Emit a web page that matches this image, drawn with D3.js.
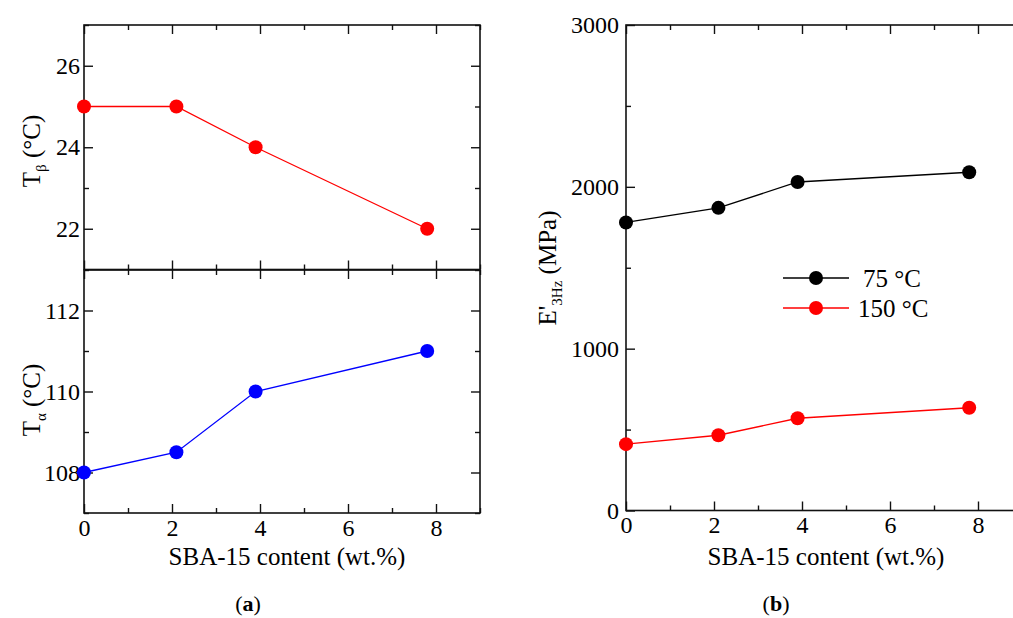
<!DOCTYPE html>
<html>
<head>
<meta charset="utf-8">
<script src="https://cdn.jsdelivr.net/npm/d3@7"></script>
<style>
  html, body { margin: 0; padding: 0; background: #fff; }
  svg { display: block; }
</style>
</head>
<body>
<svg id="chart" width="1013" height="618"></svg>
<script>
// ---------------- data ----------------
const sbaContent = [0, 2.1, 3.9, 7.8];          // SBA-15 content (wt.%)
const tBeta = [25, 25, 24, 22];                  // T_beta (°C)
const tAlpha = [108, 108.5, 110, 111];           // T_alpha (°C)
const modulus75 = [1780, 1870, 2030, 2090];      // E'3Hz at 75 °C (MPa)
const modulus150 = [410, 465, 570, 635];         // E'3Hz at 150 °C (MPa)
const seriesNames = ["75 °C", "150 °C"];
const xTicks = [0, 2, 4, 6, 8];
const xMinor = [1, 3, 5, 7, 9];
const tBetaTicks = [22, 24, 26];
const tBetaMinor = [21, 23, 25, 27];
const tAlphaTicks = [108, 110, 112];
const tAlphaMinor = [107, 109, 111, 113];
const eTicks = [0, 1000, 2000, 3000];
const eMinor = [500, 1500, 2500];

// ---------------- setup ----------------
const svg = d3.select("#chart");
const FONT = "'Liberation Serif', 'Times New Roman', serif";
const FS = 25;
const TFS = 24;
const MAJ = 9, MIN = 5;
const AX_COLOR = "#111";

function styleAxis(g) {
  g.select(".domain").remove();
  g.selectAll("line").attr("stroke", AX_COLOR).attr("stroke-width", 1.4);
  g.selectAll("text").attr("font-family", FONT).attr("font-size", TFS).attr("fill", "#000");
}

function frame(xs, ys, opts) {
  const [x0, x1] = xs.range();
  const [y0, y1] = ys.range(); // y0 bottom, y1 top
  const g = svg.append("g");
  const sides = [
    {axis: d3.axisBottom(xs), t: `translate(0,${y0})`, maj: opts.xTicks, min: opts.xMinor, labels: opts.xLabels},
    {axis: d3.axisTop(xs), t: `translate(0,${y1})`, maj: opts.xTicks, min: opts.xMinor, labels: false},
    {axis: d3.axisLeft(ys), t: `translate(${x0},0)`, maj: opts.yTicks, min: opts.yMinor, labels: true},
    {axis: d3.axisRight(ys), t: `translate(${x1},0)`, maj: opts.yTicks, min: opts.yMinor, labels: false}
  ];
  sides.forEach((s, i) => {
    const isY = i >= 2;
    const majAx = s.axis.tickValues(s.maj).tickSizeInner(-MAJ).tickSizeOuter(0)
      .tickPadding(isY ? opts.yPad : opts.xPad);
    if (!s.labels) majAx.tickFormat(() => "");
    else majAx.tickFormat(d3.format("d"));
    g.append("g").attr("transform", s.t).call(majAx).call(styleAxis);
    const minAxGen = (i === 0 ? d3.axisBottom(xs) : i === 1 ? d3.axisTop(xs) : i === 2 ? d3.axisLeft(ys) : d3.axisRight(ys));
    g.append("g").attr("transform", s.t)
      .call(minAxGen.tickValues(s.min).tickSizeInner(-MIN).tickSizeOuter(0).tickFormat(() => ""))
      .call(styleAxis);
  });
  g.append("rect")
    .attr("x", x0).attr("y", y1).attr("width", x1 - x0).attr("height", y0 - y1)
    .attr("fill", "none").attr("stroke", AX_COLOR).attr("stroke-width", 1.6);
  return g;
}

function series(xs, ys, xv, yv, color) {
  const line = d3.line().x((d, i) => xs(xv[i])).y(d => ys(d));
  svg.append("path").datum(yv)
    .attr("d", line).attr("fill", "none").attr("stroke", color).attr("stroke-width", 1.3);
  svg.append("g").selectAll("circle").data(yv).join("circle")
    .attr("cx", (d, i) => xs(xv[i])).attr("cy", d => ys(d)).attr("r", 7).attr("fill", color);
}

function yLabel(x, y, main, sub, rest) {
  const t = svg.append("text")
    .attr("transform", `translate(${x},${y}) rotate(-90)`)
    .attr("text-anchor", "middle")
    .attr("font-family", FONT).attr("font-size", FS).attr("fill", "#000");
  t.append("tspan").text(main);
  t.append("tspan").attr("font-size", 15).attr("dy", 6).text(sub);
  t.append("tspan").attr("dy", -6).text(rest);
}

// ---------------- panel (a) ----------------
const xa = d3.scaleLinear().domain([0, 9]).range([84, 480]);
const yTop = d3.scaleLinear().domain([21, 27]).range([269.5, 25]);
const yBot = d3.scaleLinear().domain([107, 113]).range([513, 270]);

frame(xa, yTop, {xTicks, xMinor, yTicks: tBetaTicks, yMinor: tBetaMinor, xLabels: false, xPad: 6, yPad: 4});
frame(xa, yBot, {xTicks, xMinor, yTicks: tAlphaTicks, yMinor: tAlphaMinor, xLabels: true, xPad: 6, yPad: 4});
series(xa, yTop, sbaContent, tBeta, "#ff0000");
series(xa, yBot, sbaContent, tAlpha, "#0000ff");

yLabel(40, 151, "T", "β", " (°C)");
yLabel(40, 400, "T", "α", " (°C)");

svg.append("text").attr("x", 287).attr("y", 565).attr("text-anchor", "middle")
  .attr("font-family", FONT).attr("font-size", FS).text("SBA-15 content (wt.%)");

// ---------------- panel (b) ----------------
const xb = d3.scaleLinear().domain([0, 9]).range([626, 1022]);
const yb = d3.scaleLinear().domain([0, 3000]).range([510.5, 25]);

frame(xb, yb, {xTicks, xMinor, yTicks: eTicks, yMinor: eMinor, xLabels: true, xPad: 5, yPad: 7});
series(xb, yb, sbaContent, modulus75, "#000000");
series(xb, yb, sbaContent, modulus150, "#ff0000");

yLabel(556, 268, "E'", "3Hz", " (MPa)");

svg.append("text").attr("x", 826).attr("y", 565).attr("text-anchor", "middle")
  .attr("font-family", FONT).attr("font-size", FS).text("SBA-15 content (wt.%)");

// legend
const legend = [
  {name: seriesNames[0], color: "#000000", y: 278, tx: 863},
  {name: seriesNames[1], color: "#ff0000", y: 308, tx: 858}
];
legend.forEach(l => {
  svg.append("line").attr("x1", 783).attr("x2", 849).attr("y1", l.y).attr("y2", l.y)
    .attr("stroke", l.color).attr("stroke-width", 1.3);
  svg.append("circle").attr("cx", 816).attr("cy", l.y).attr("r", 7).attr("fill", l.color);
  svg.append("text").attr("x", l.tx).attr("y", l.y).attr("dy", "0.35em")
    .attr("font-family", FONT).attr("font-size", FS).text(l.name);
});

// captions
function caption(x, letter) {
  const t = svg.append("text").attr("x", x).attr("y", 611).attr("text-anchor", "middle")
    .attr("font-family", FONT).attr("font-size", 22).attr("fill", "#000");
  t.append("tspan").text("(");
  t.append("tspan").attr("font-weight", "bold").text(letter);
  t.append("tspan").text(")");
}
caption(248, "a");
caption(776, "b");
</script>
</body>
</html>
